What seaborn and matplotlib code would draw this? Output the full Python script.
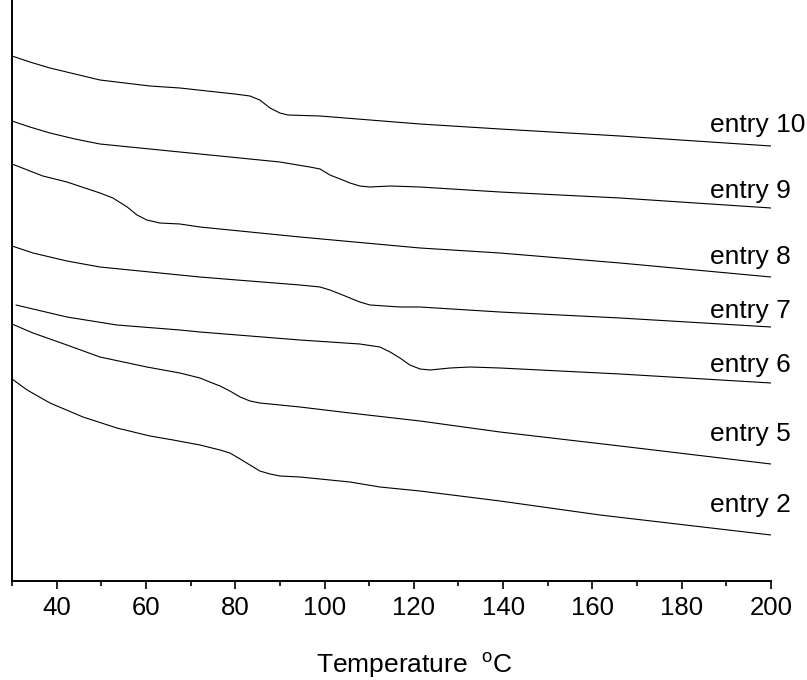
import matplotlib
matplotlib.use('Agg')
import matplotlib.pyplot as plt
import pandas as pd
import seaborn as sns
from matplotlib.ticker import MultipleLocator

# DSC traces (heat flow in arbitrary units)
names = ['entry 10', 'entry 9', 'entry 8', 'entry 7', 'entry 6', 'entry 5', 'entry 2']

t_e10 = [30, 34.0, 38.5, 44.1, 49.7, 60.9, 67.6, 73.7, 79.9, 83.3, 85.5, 87.8, 90.0, 91.8,
         99.0, 121.4, 139.3, 166.2, 200]
y_e10 = [525, 519, 513, 507, 501, 495, 493, 490, 487, 485, 481, 473, 468, 466,
         465, 457, 452, 445, 435]

t_e9 = [30, 34.0, 38.5, 44.1, 49.7, 60.9, 67.6, 72.1, 90.0, 96.7, 99.0, 101.2, 103.5, 105.7,
        107.9, 110.2, 114.7, 121.4, 139.3, 166.2, 200]
y_e9 = [460, 454, 448, 442, 437, 432, 429, 427, 419, 414, 412, 406, 402, 398,
        395, 394, 395, 394, 389, 383, 373]

t_e8 = [30, 36.9, 42.3, 49.7, 52.6, 55.8, 58.0, 60.2, 63.1, 67.6, 72.1, 94.5, 121.4, 139.3,
        166.2, 200]
y_e8 = [417, 405, 399, 388, 383, 374, 366, 361, 358, 357, 354, 344, 333, 328,
        318, 304]

t_e7 = [30, 34.7, 42.3, 49.7, 60.9, 67.6, 72.1, 80.4, 94.5, 99.0, 101.2, 103.5, 105.7, 107.9,
        110.2, 116.9, 121.4, 139.3, 166.2, 200]
y_e7 = [335, 328, 320, 314, 309, 306, 304, 301, 296, 294, 291, 287, 283, 279,
        276, 274, 274, 269, 263, 254]

t_e6 = [30.9, 42.3, 53.5, 67.6, 72.1, 94.5, 107.9, 112.4, 114.7, 116.9, 119.1, 121.4, 123.6,
        128.1, 132.6, 139.3, 166.2, 200]
y_e6 = [276, 264, 256, 251, 249, 241, 237, 234, 229, 223, 216, 212, 211,
        213, 214, 213, 207, 198]

t_e5 = [30, 34.7, 42.3, 49.7, 60.2, 67.6, 72.1, 74.3, 76.6, 78.8, 81.1, 83.3, 85.5, 87.8,
        94.5, 105.7, 121.4, 139.3, 166.2, 200]
y_e5 = [257, 248, 236, 224, 214, 208, 203, 199, 195, 190, 184, 180, 178, 177,
        174, 168, 160, 149, 135, 117]

t_e2 = [30, 33.4, 38.5, 45.9, 53.5, 60.9, 66.1, 72.1, 76.6, 78.8, 81.1, 83.3, 85.5, 87.8,
        90.0, 94.5, 105.7, 112.4, 121.4, 139.3, 161.7, 200]
y_e2 = [202, 191, 178, 164, 153, 145, 141, 136, 131, 128, 122, 116, 110, 107,
        105, 104, 99, 94, 90, 80, 66, 46]

temps = [t_e10, t_e9, t_e8, t_e7, t_e6, t_e5, t_e2]
signals = [y_e10, y_e9, y_e8, y_e7, y_e6, y_e5, y_e2]

# label placement (baseline height of each tag)
label_x = 186.3
label_y = [449, 383, 317, 263, 209, 140, 69]

sns.set_theme(style='ticks', rc={
    'axes.spines.right': False,
    'axes.spines.top': False,
    'axes.linewidth': 1.4,
    'axes.edgecolor': 'black',
    'xtick.color': 'black',
    'xtick.major.size': 6,
    'xtick.minor.size': 3.6,
    'xtick.major.width': 1.2,
    'xtick.minor.width': 1.2,
    'xtick.labelsize': 18.5,
    'xtick.major.pad': 5,
    'figure.facecolor': 'white',
    'axes.facecolor': 'white',
})
plt.rcParams['font.family'] = ['Liberation Sans', 'DejaVu Sans']
plt.rcParams['mathtext.fontset'] = 'custom'
plt.rcParams['mathtext.rm'] = 'Liberation Sans'

fig = plt.figure(figsize=(8.07, 6.80), dpi=100)
ax = fig.add_axes([12 / 807, 99 / 680, 759 / 807, 581 / 680])

for name, t, y in zip(names, temps, signals):
    df = pd.DataFrame({'Temperature': t, 'Heat flow': y})
    sns.lineplot(df, x='Temperature', y='Heat flow', color='black',
                 linewidth=0.8, ax=ax, sort=True)

for name, ly in zip(names, label_y):
    ax.text(label_x, ly, name, fontsize=19, ha='left', va='baseline',
            color='black', clip_on=False)

ax.set_xlim(30, 200)
ax.set_ylim(0, 581)
ax.xaxis.set_major_locator(MultipleLocator(20))
ax.xaxis.set_minor_locator(MultipleLocator(10))
ax.set_yticks([])
ax.set_ylabel('')
ax.set_xlabel(r'Temperature  $^\mathregular{o}$C', fontsize=19, color='black')
ax.xaxis.set_label_coords(0.53, -0.12)

fig.savefig('out.png', dpi=100)
